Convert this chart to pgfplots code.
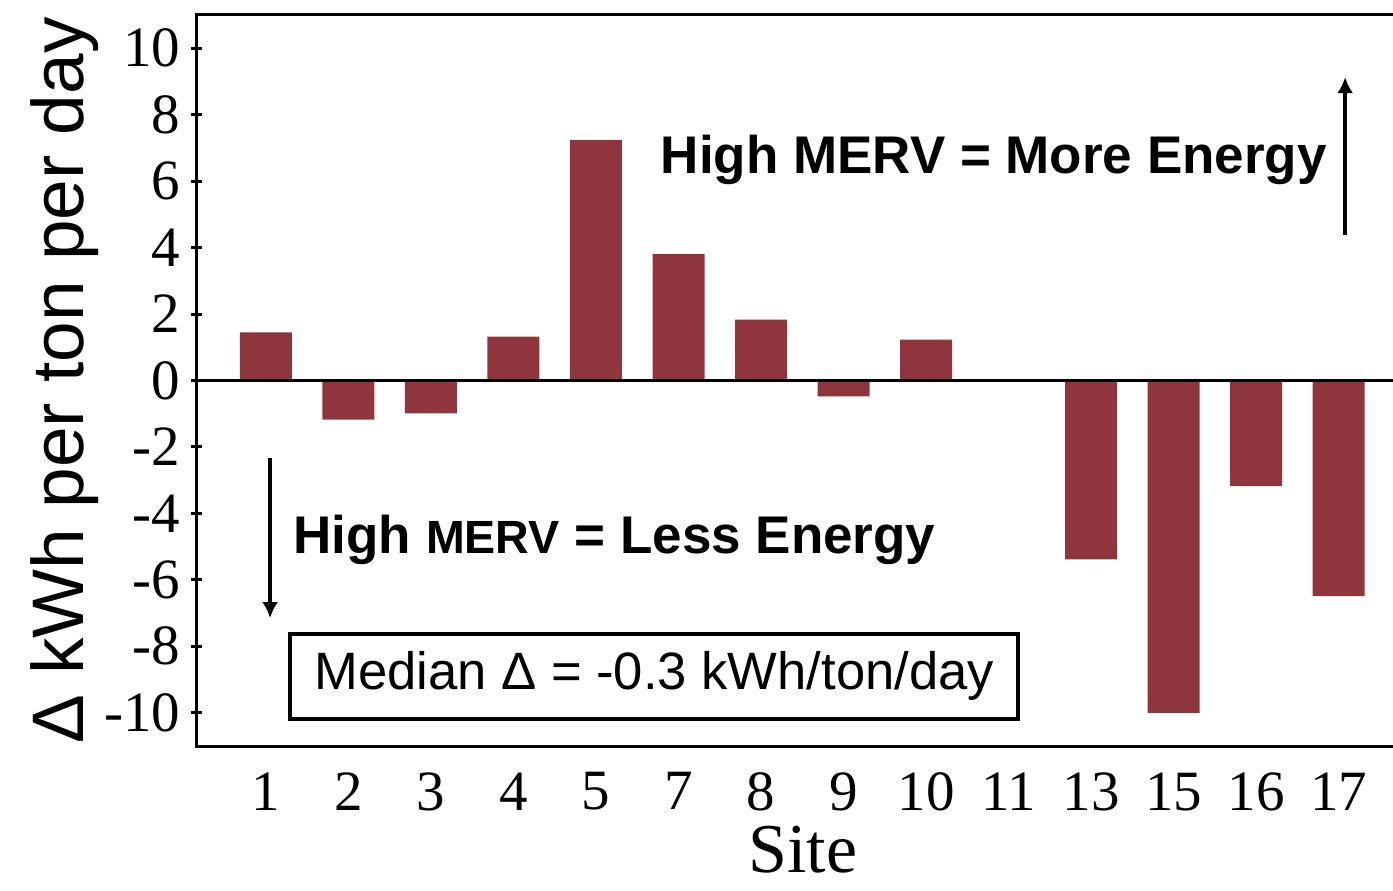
\documentclass[border=0pt]{standalone}
\usepackage{fontspec}
\setmainfont{Liberation Serif}
\newfontfamily\arial{Liberation Sans}
\usepackage{pgfplots}
\pgfplotsset{compat=1.18}
\usetikzlibrary{arrows.meta}
\definecolor{barred}{RGB}{142,53,62}
\begin{document}
\begin{tikzpicture}
\begin{axis}[
  name=ax, scale only axis, width=598pt, height=365.5pt,
  xmin=-0.836, xmax=13.66, ymin=-11, ymax=11,
  xtick={0,...,13}, xticklabels={1,2,3,4,5,7,8,9,10,11,13,15,16,17},
  ytick={-10,-8,...,10}, yticklabels={-10,-8,-6,-4,-2,0,2,4,6,8,10},
  axis line style={draw=none},
  xtick style={draw=none},
  ytick style={line width=1.5pt, black},
  major tick length=5.5pt, tick align=center,
  ytick pos=left,
  ticklabel style={font=\fontsize{28.5}{30}\selectfont},
  xticklabel style={yshift=-7pt},
  yticklabel style={xshift=-2pt},
  xlabel={Site}, xlabel style={font=\fontsize{35}{36}\selectfont, inner sep=0pt, yshift=-4pt, xshift=4pt},
  ylabel={\arial Δ kWh per ton per day},
  ylabel style={font=\fontsize{36.5}{38}\selectfont, yshift=-4pt},
  clip=false,
]
\addplot[ybar, bar width=26pt, fill=barred, draw=none] coordinates {
 (0,1.45) (1,-1.18) (2,-0.99) (3,1.32) (4,7.24) (5,3.81) (6,1.83) (7,-0.48)
 (8,1.23) (9,0) (10,-5.38) (11,-10) (12,-3.18) (13,-6.49)};
\draw[line width=1.3pt] (axis cs:-0.836,0) -- (axis cs:13.66,0);
\draw[line width=2pt, -{Latex[length=8pt,width=8pt]}] (axis cs:13.08,4.38) -- (axis cs:13.08,9.13);
\draw[line width=2pt, -{Latex[length=8pt,width=8pt]}] (axis cs:0.05,-2.34) -- (axis cs:0.05,-7.15);
\node[anchor=base west, inner sep=0pt, font=\arial\bfseries\fontsize{26.5}{28}\selectfont] at (axis cs:4.78,6.22) {High MERV = More Energy};
\node[anchor=base west, inner sep=0pt, font=\arial\bfseries\fontsize{26.5}{28}\selectfont] at (axis cs:0.33,-5.2) {High {\fontsize{23.3}{28}\selectfont MERV} = Less Energy};
\node[anchor=west, draw, line width=2pt, fill=white, inner xsep=12pt, minimum height=42.5pt, font=\arial\fontsize{26.3}{28}\selectfont] at (axis cs:0.27,-8.9) {Median Δ = -0.3 kWh/ton/day};
\end{axis}
\draw[line width=1.5pt] (ax.south east) -- (ax.south west) -- (ax.north west) -- (ax.north east);
\pgfresetboundingbox
\path ([xshift=-98.5pt,yshift=-72pt]ax.south west) rectangle ([yshift=7.5pt]ax.north east);
\end{tikzpicture}
\end{document}
